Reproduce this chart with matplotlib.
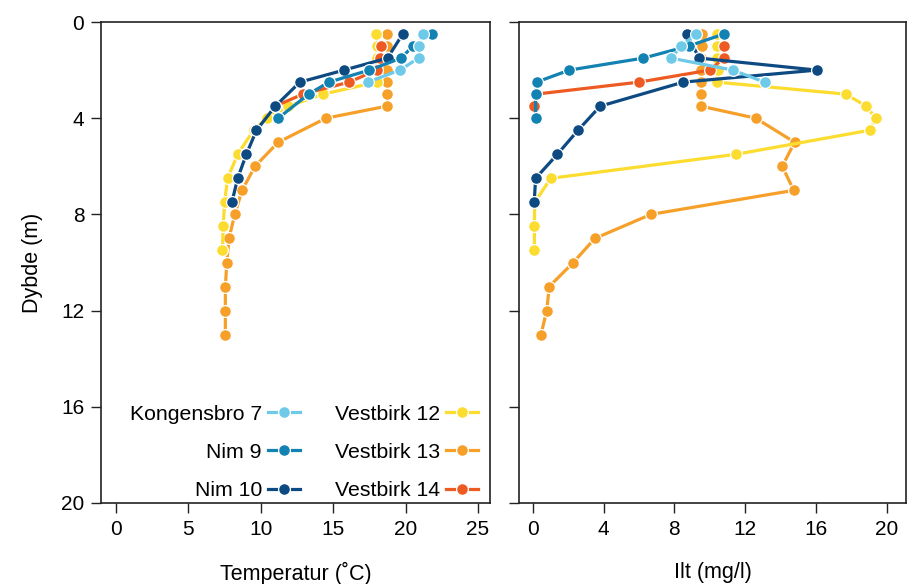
import matplotlib
matplotlib.use("Agg")
import matplotlib.pyplot as plt

plt.rcParams['font.family'] = ['Liberation Sans', 'DejaVu Sans']

# depth profiles (m), temperature (C) and oxygen (mg/l) per station
k7_depth = [0.5, 1.0, 1.5, 2.0, 2.5]
k7_temp = [21.2, 20.9, 20.9, 19.6, 17.4]
k7_ilt = [9.2, 8.4, 7.8, 11.3, 13.1]

n9_depth = [0.5, 1.0, 1.5, 2.0, 2.5, 3.0, 4.0]
n9_temp = [21.8, 20.5, 19.7, 17.5, 14.7, 13.3, 11.2]
n9_ilt = [10.8, 8.8, 6.25, 2.06, 0.2, 0.15, 0.15]

n10_depth = [0.5, 1.5, 2.0, 2.5, 3.5, 4.5, 5.5, 6.5, 7.5]
n10_temp = [19.8, 18.75, 15.75, 12.7, 11.0, 9.7, 9.0, 8.4, 8.0]
n10_ilt = [8.7, 9.4, 16.05, 8.5, 3.8, 2.55, 1.38, 0.15, 0.07]

v12_depth = [0.5, 1.0, 1.5, 2.0, 2.5, 3.0, 3.5, 4.0, 4.5, 5.5, 6.5, 7.5, 8.5, 9.5]
v12_temp = [17.95, 18.0, 18.0, 18.0, 18.0, 14.3, 11.9, 10.4, 9.5, 8.4, 7.7, 7.5, 7.4, 7.35]
v12_ilt = [10.4, 10.4, 10.4, 10.45, 10.4, 17.7, 18.85, 19.4, 19.05, 11.5, 1.0, 0.1, 0.08, 0.08]

v13_depth = [0.5, 1.0, 1.5, 2.0, 2.5, 3.0, 3.5, 4.0, 5.0, 6.0, 7.0, 8.0, 9.0, 10.0, 11.0, 12.0, 13.0]
v13_temp = [18.7, 18.7, 18.7, 18.7, 18.7, 18.7, 18.7, 14.5, 11.2, 9.6, 8.7, 8.2, 7.8, 7.65, 7.55, 7.55, 7.55]
v13_ilt = [9.55, 9.55, 9.5, 9.5, 9.5, 9.5, 9.5, 12.6, 14.8, 14.1, 14.75, 6.67, 3.5, 2.28, 0.92, 0.78, 0.45]

v14_depth = [1.0, 1.5, 2.0, 2.5, 3.0, 3.5]
v14_temp = [18.3, 18.2, 18.0, 16.1, 12.9, 11.0]
v14_ilt = [10.8, 10.8, 10.0, 6.0, 0.17, 0.05]

labels = ["Kongensbro 7", "Nim 9", "Nim 10", "Vestbirk 12", "Vestbirk 13", "Vestbirk 14"]
colors = ["#6ECAE8", "#1282B2", "#0E4A82", "#FCDC2E", "#F6A02A", "#EE5B22"]
depths = [k7_depth, n9_depth, n10_depth, v12_depth, v13_depth, v14_depth]
temps = [k7_temp, n9_temp, n10_temp, v12_temp, v13_temp, v14_temp]
ilts = [k7_ilt, n9_ilt, n10_ilt, v12_ilt, v13_ilt, v14_ilt]
zorders = [8, 7, 6, 4, 3, 5]

fig = plt.figure(figsize=(9.07, 5.84), dpi=100)
ax1 = fig.add_axes([101/907, 1-503/584, 389/907, 481/584])
ax2 = fig.add_axes([519/907, 1-503/584, 387/907, 481/584])

style = dict(marker='o', markersize=8.5, markeredgecolor='white', markeredgewidth=0.9,
             linewidth=2.3)

for i in range(len(labels)):
    ax1.plot(temps[i], depths[i], color=colors[i], label=labels[i], zorder=zorders[i], **style)
    ax2.plot(ilts[i], depths[i], color=colors[i], zorder=zorders[i], **style)

for ax in (ax1, ax2):
    ax.set_ylim(20, 0)
    ax.set_yticks([0, 4, 8, 12, 16, 20])
    ax.tick_params(direction='out', length=7, width=1, labelsize=15, pad=5, color='#222222')
    for s in ax.spines.values():
        s.set_linewidth(1.2)
        s.set_color('#222222')

ax1.set_xlim(-1.04, 25.83)
ax1.set_xticks([0, 5, 10, 15, 20, 25])
ax2.set_xlim(-0.79, 21.1)
ax2.set_xticks([0, 4, 8, 12, 16, 20])
ax2.tick_params(labelleft=False)

ax1.set_ylabel("Dybde (m)", fontsize=15.5, labelpad=13)
ax1.set_xlabel("Temperatur (˚C)", fontsize=15.5, labelpad=17)
ax2.set_xlabel("Ilt (mg/l)", fontsize=15.5, labelpad=17)

ax1.legend(loc='lower right', bbox_to_anchor=(0.99, -0.012), ncol=2, frameon=False,
           markerfirst=False, fontsize=15.3, labelspacing=0.91, handlelength=1.5,
           handletextpad=0.28, columnspacing=1.65, borderaxespad=0.0)

plt.savefig("out.png", dpi=100)
